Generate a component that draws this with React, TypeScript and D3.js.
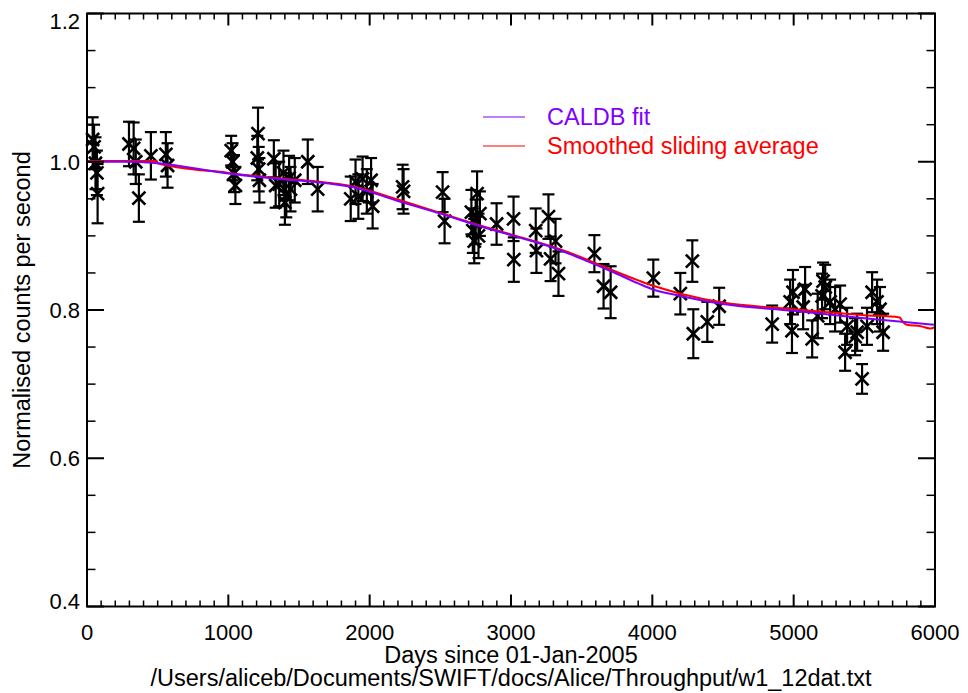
import React from 'react';
import * as d3 from 'd3';

const W = 968, H = 693;
const frame = { left: 87, right: 935, top: 13.5, bottom: 606.5 };
const FONT = '"Liberation Sans", Arial, Helvetica, sans-serif';

// measured points: day since 01-Jan-2005, normalised rate, 1-sigma error
const pointDays = [
  40, 50, 60, 70, 75, 297, 330, 345, 367, 452, 558, 570,
  1020, 1030, 1040, 1050, 1205, 1210, 1215, 1220, 1322, 1335,
  1360, 1390, 1400, 1410, 1430, 1440, 1470, 1562, 1632,
  1866, 1900, 1920, 1950, 1980, 2010, 2021, 2233, 2240, 2516, 2530,
  2720, 2730, 2740, 2750, 2760, 2770, 2780, 2898, 3018, 3020,
  3175, 3180, 3265, 3280, 3315, 3336, 3590, 3655, 3705,
  4007, 4198, 4283, 4290, 4389, 4473, 4848,
  4975, 4988, 4995, 5067, 5081, 5131, 5170, 5201, 5208, 5223,
  5258, 5293, 5329, 5364, 5378, 5435, 5449, 5484, 5519, 5555, 5590, 5611, 5633,
];
const pointValues = [
  1.030, 1.020, 0.998, 0.985, 0.957, 1.024, 1.018, 1.000, 0.951, 1.008, 1.010, 0.995,
  1.015, 1.000, 0.984, 0.968, 1.005, 1.038, 0.990, 0.975, 1.004, 0.968,
  0.970, 0.985, 0.945, 0.955, 0.978, 0.963, 0.975, 1.000, 0.963,
  0.950, 0.973, 0.953, 0.977, 0.960, 0.975, 0.940, 0.966, 0.960, 0.959, 0.920,
  0.932, 0.907, 0.893, 0.919, 0.957, 0.900, 0.930, 0.916, 0.923, 0.868,
  0.907, 0.880, 0.926, 0.869, 0.893, 0.849, 0.876, 0.832, 0.824,
  0.843, 0.822, 0.866, 0.768, 0.784, 0.805, 0.781,
  0.811, 0.772, 0.824, 0.804, 0.828, 0.761, 0.792, 0.819, 0.839, 0.831,
  0.811, 0.801, 0.808, 0.743, 0.778, 0.764, 0.770, 0.707, 0.778, 0.824, 0.811, 0.801, 0.770,
];
const pointErrors = [
  0.030, 0.030, 0.035, 0.030, 0.040, 0.030, 0.035, 0.030, 0.032, 0.032, 0.030, 0.030,
  0.020, 0.025, 0.025, 0.025, 0.030, 0.035, 0.030, 0.030, 0.025, 0.030,
  0.030, 0.030, 0.030, 0.030, 0.030, 0.030, 0.030, 0.030, 0.030,
  0.030, 0.030, 0.030, 0.030, 0.030, 0.030, 0.030, 0.030, 0.030, 0.027, 0.030,
  0.030, 0.030, 0.030, 0.030, 0.030, 0.030, 0.030, 0.028, 0.030, 0.030,
  0.030, 0.030, 0.030, 0.030, 0.030, 0.030, 0.025, 0.030, 0.035,
  0.025, 0.028, 0.028, 0.033, 0.027, 0.025, 0.025,
  0.030, 0.030, 0.030, 0.030, 0.030, 0.025, 0.030, 0.030, 0.025, 0.030,
  0.030, 0.030, 0.025, 0.025, 0.025, 0.025, 0.025, 0.020, 0.025, 0.027, 0.030, 0.030, 0.025,
];

// CALDB fit curve
const fitDays = [0, 250, 500, 1000, 1400, 1600, 1900, 2200, 2500, 2800, 3000, 3300, 3500, 3700, 3900, 4000, 4200, 4500, 5000, 5500, 6000];
const fitValues = [1.000, 1.000, 0.998, 0.984, 0.976, 0.973, 0.965, 0.947, 0.930, 0.912, 0.901, 0.884, 0.869, 0.853, 0.836, 0.828, 0.819, 0.808, 0.799, 0.789, 0.780];

// smoothed sliding average
const smoothDays = [0, 250, 490, 500, 1000, 1400, 1600, 1900, 2200, 2500, 2800, 3000, 3300, 3500, 3700, 3900, 4000, 4200, 4500, 5000, 5500, 5750, 5765, 5800, 5900, 5965, 6000];
const smoothValues = [1.001, 1.001, 1.001, 0.998, 0.985, 0.977, 0.974, 0.966, 0.949, 0.931, 0.913, 0.902, 0.885, 0.871, 0.855, 0.840, 0.833, 0.822, 0.810, 0.801, 0.793, 0.790, 0.786, 0.780, 0.778, 0.775, 0.777];

const xTicks = [0, 1000, 2000, 3000, 4000, 5000, 6000];
const yTicks = [0.4, 0.6, 0.8, 1.0, 1.2];

const PURPLE = '#7f00ff';
const RED = '#ff0000';

export default function App() {
  const x = d3.scaleLinear().domain([0, 6000]).range([frame.left, frame.right]);
  const y = d3.scaleLinear().domain([0.4, 1.2]).range([frame.bottom, frame.top]);

  const xMinor = d3.range(0, 6001, 100).filter(d => d % 1000 !== 0);
  const yMinor = d3.range(0.4, 1.2001, 0.05).filter(d => Math.abs(d * 5 - Math.round(d * 5)) > 1e-6);

  const fitLine = d3.line<number>()
    .x((_, i) => x(fitDays[i]))
    .y(d => y(d))
    .curve(d3.curveMonotoneX);
  const smoothLine = d3.line<number>()
    .x((_, i) => x(smoothDays[i]))
    .y(d => y(d))
    .curve(d3.curveMonotoneX);

  const s = 6.5, cap = 6;

  return (
    <svg width={W} height={H} style={{ position: 'absolute', left: 0, top: 0, background: '#fff' }}>
      <rect width={W} height={H} fill="#fff" />

      {/* error bars and crosses */}
      <g stroke="#000" strokeWidth={2.2} fill="none">
        {pointDays.map((d, i) => {
          const cx = x(d), cy = y(pointValues[i]);
          const y0 = y(pointValues[i] - pointErrors[i]), y1 = y(pointValues[i] + pointErrors[i]);
          return (
            <g key={i}>
              <line x1={cx} x2={cx} y1={y0} y2={y1} />
              <line x1={cx - cap} x2={cx + cap} y1={y0} y2={y0} />
              <line x1={cx - cap} x2={cx + cap} y1={y1} y2={y1} />
              <line x1={cx - s} x2={cx + s} y1={cy - s} y2={cy + s} strokeWidth={2.6} />
              <line x1={cx - s} x2={cx + s} y1={cy + s} y2={cy - s} strokeWidth={2.6} />
            </g>
          );
        })}
      </g>

      <path d={smoothLine(smoothValues) || ''} fill="none" stroke={RED} strokeWidth={2} />
      <path d={fitLine(fitValues) || ''} fill="none" stroke={PURPLE} strokeWidth={2} />

      {/* frame and ticks */}
      <g stroke="#000" strokeWidth={2} fill="none">
        <rect x={frame.left} y={frame.top} width={frame.right - frame.left} height={frame.bottom - frame.top} />
        {xTicks.map(t => (
          <g key={'xt' + t}>
            <line x1={x(t)} x2={x(t)} y1={frame.bottom} y2={frame.bottom - 12} />
            <line x1={x(t)} x2={x(t)} y1={frame.top} y2={frame.top + 12} />
          </g>
        ))}
        {xMinor.map(t => (
          <g key={'xm' + t} strokeWidth={1.5}>
            <line x1={x(t)} x2={x(t)} y1={frame.bottom} y2={frame.bottom - 6} />
            <line x1={x(t)} x2={x(t)} y1={frame.top} y2={frame.top + 6} />
          </g>
        ))}
        {yTicks.map(t => (
          <g key={'yt' + t}>
            <line x1={frame.left} x2={frame.left + 17} y1={y(t)} y2={y(t)} />
            <line x1={frame.right} x2={frame.right - 17} y1={y(t)} y2={y(t)} />
          </g>
        ))}
        {yMinor.map(t => (
          <g key={'ym' + t.toFixed(2)} strokeWidth={1.5}>
            <line x1={frame.left} x2={frame.left + 8.5} y1={y(t)} y2={y(t)} />
            <line x1={frame.right} x2={frame.right - 8.5} y1={y(t)} y2={y(t)} />
          </g>
        ))}
      </g>

      {/* tick labels */}
      <g fontFamily={FONT} fontSize={22} fill="#000">
        {xTicks.map(t => (
          <text key={'xl' + t} x={x(t)} y={frame.bottom + 33} textAnchor="middle">{t}</text>
        ))}
        {yTicks.map(t => {
          const cy = Math.min(Math.max(y(t), frame.top + 7), frame.bottom - 6);
          return (
            <text key={'yl' + t} x={frame.left - 7} y={cy + 8} textAnchor="end">{t.toFixed(1)}</text>
          );
        })}
      </g>

      {/* axis titles */}
      <g fontFamily={FONT} fontSize={23.5} fill="#000" textAnchor="middle">
        <text x={(frame.left + frame.right) / 2} y={663}>Days since 01-Jan-2005</text>
        <text x={(frame.left + frame.right) / 2} y={686}>/Users/aliceb/Documents/SWIFT/docs/Alice/Throughput/w1_12dat.txt</text>
        <text transform={`translate(30, ${(frame.top + frame.bottom) / 2}) rotate(-90)`}>Normalised counts per second</text>
      </g>

      {/* legend */}
      <g fontFamily={FONT} fontSize={23.5}>
        <line x1={483} x2={525} y1={117} y2={117} stroke={PURPLE} strokeWidth={1.2} />
        <text x={547} y={125} fill={PURPLE}>CALDB fit</text>
        <line x1={483} x2={525} y1={146} y2={146} stroke={RED} strokeWidth={1.2} />
        <text x={547} y={154} fill={RED}>Smoothed sliding average</text>
      </g>
    </svg>
  );
}
